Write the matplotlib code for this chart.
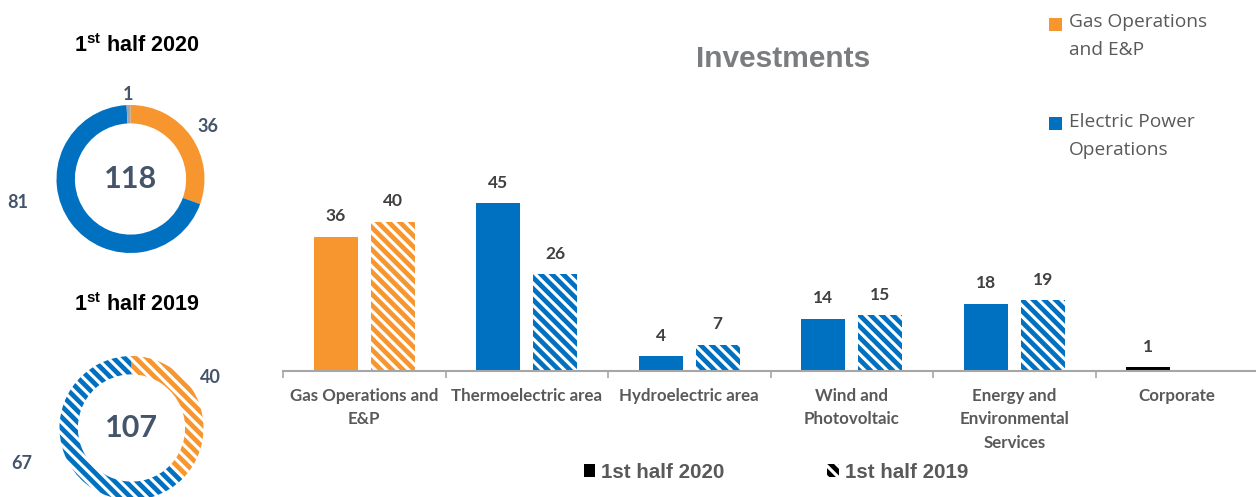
import numpy as np
import matplotlib
matplotlib.use("Agg")
import matplotlib.pyplot as plt
from matplotlib.patches import Rectangle, Patch

plt.rcParams["hatch.linewidth"] = 3.4
plt.rcParams["mathtext.fontset"] = "custom"
plt.rcParams["mathtext.bf"] = "Liberation Sans:bold"
plt.rcParams["mathtext.rm"] = "Liberation Sans:bold"

ORANGE = "#F7962F"
BLUE = "#0070C0"
GREY = "#A5A5A5"
BLACK = "#000000"
NUM_COLOR = "#44546A"
TEXT_GREY = "#595959"
STRIPES = "\\\\\\"

# --- data ---
categories = ["Gas Operations and\nE&P", "Thermoelectric area", "Hydroelectric area",
              "Wind and\nPhotovoltaic", "Energy and\nEnvironmental\nServices", "Corporate"]
inv_2020 = [36, 45, 4, 14, 18, 1]
inv_2019 = [40, 26, 7, 15, 19, None]
bar_colors = [ORANGE, BLUE, BLUE, BLUE, BLUE, BLACK]

donut_labels_2020 = ["Gas Operations and E&P", "Electric Power Operations", "Corporate"]
donut_2020 = [36, 81, 1]
donut_colors_2020 = [ORANGE, BLUE, GREY]
donut_2019 = [40, 67]
donut_colors_2019 = [ORANGE, BLUE]

period_labels = ["1st half 2020", "1st half 2019"]
legend_labels = ["Gas Operations\nand E&P", "Electric Power\nOperations"]

W, H = 1256, 497
fig = plt.figure(figsize=(W / 100, H / 100), dpi=100)


def px_axes(cx, cy, half):
    # square axes centred on a pixel position (y measured from top)
    return fig.add_axes([(cx - half) / W, 1 - (cy + half) / H, 2 * half / W, 2 * half / H])


def draw_donut(cx, cy, values, colors, radius, width, hatched, label_pos):
    ax = px_axes(cx, cy, 120)
    wedges, _ = ax.pie(values, colors=colors, startangle=90, counterclock=False,
                       radius=radius, wedgeprops=dict(width=width, linewidth=0))
    if hatched:
        for w, c in zip(wedges, colors):
            w.set_facecolor("white")
            w.set_edgecolor(c)
            w.set_hatch(STRIPES)
            w.set_linewidth(0)
    ax.set_xlim(-1.5, 1.5)
    ax.set_ylim(-1.5, 1.5)
    ax.set_aspect("equal")
    ax.axis("off")
    ax.text(0, 0, str(sum(values)), ha="center", va="center", fontsize=22,
            fontweight="bold", color=NUM_COLOR, family="Lato")
    for v, (lx, ly) in zip(values, label_pos):
        ax.text(lx, ly, str(v), ha="center", va="center", fontsize=13,
                fontweight="bold", color=NUM_COLOR, family="Lato")
    return ax


# donuts: 1 unit = 80 px
draw_donut(130.5, 179, donut_2020, donut_colors_2020, 0.925, 0.23, False,
           [(0.97, 0.66), (-1.41, -0.29), (-0.03, 1.05)])
draw_donut(131.5, 428, donut_2019, donut_colors_2019, 0.9, 0.23, True,
           [(0.99, 0.625), (-1.37, -0.45)])

fig.text(137 / W, 1 - 46 / H, r"1$^{\mathbf{st}}$ half 2020", ha="center", va="center",
         fontsize=15.5, fontweight="bold", family="Liberation Sans", color="black")
fig.text(137 / W, 1 - 305 / H, r"1$^{\mathbf{st}}$ half 2019", ha="center", va="center",
         fontsize=15.5, fontweight="bold", family="Liberation Sans", color="black")

# --- bar chart ---
base_px, top_px = 371, 160
ax = fig.add_axes([283 / W, 1 - base_px / H, 975 / W, (base_px - top_px) / H])
x = np.arange(len(categories))
bw, off = 0.27, 0.175

ax.bar(x - off, inv_2020, width=bw, color=bar_colors, linewidth=0)
for i, v in enumerate(inv_2020):
    ax.annotate(str(v), (x[i] - off, v), xytext=(0, 9), textcoords="offset points",
                ha="center", va="bottom", fontsize=12.5, fontweight="bold",
                color="#404040", family="Lato")

for i, v in enumerate(inv_2019):
    if v is None:
        continue
    ax.bar(x[i] + off, v, width=bw, facecolor="white", edgecolor=bar_colors[i],
           hatch=STRIPES, linewidth=0)
    ax.annotate(str(v), (x[i] + off, v), xytext=(0, 9), textcoords="offset points",
                ha="center", va="bottom", fontsize=12.5, fontweight="bold",
                color="#404040", family="Lato")

ax.set_xlim(-0.5, len(categories) - 0.5)
ax.set_ylim(0, (base_px - top_px) / 3.73)
for s in ["top", "right", "left"]:
    ax.spines[s].set_visible(False)
ax.spines["bottom"].set_color("#A6A6A6")
ax.spines["bottom"].set_linewidth(1.5)
ax.set_yticks([])
ax.set_xticks(np.arange(-0.5, len(categories), 1))
ax.set_xticklabels([])
ax.tick_params(axis="x", which="major", length=5, width=1.2, color="#A6A6A6")
ax.set_xticks(x, minor=True)
ax.set_xticklabels(categories, minor=True, fontsize=12.2, fontweight="bold",
                   color=TEXT_GREY, family="Lato", linespacing=1.6)
ax.tick_params(axis="x", which="minor", length=0, pad=12)

fig.text(783 / W, 1 - 59 / H, "Investments", ha="center", va="center", fontsize=21.5,
         fontweight="bold", color="#7A7C7F", family="Liberation Sans")

# segment legend, top right
for (sq_y, txt_y), lab, c in zip([(24.5, 36), (123.5, 136)], legend_labels, [ORANGE, BLUE]):
    fig.add_artist(Rectangle((1049 / W, 1 - (sq_y + 6.5) / H), 13 / W, 13 / H,
                             transform=fig.transFigure, color=c, linewidth=0))
    fig.text(1069 / W, 1 - txt_y / H, lab, ha="left", va="center", fontsize=13.8,
             color=TEXT_GREY, family="Open Sans", linespacing=1.7)

# period legend, bottom
handles = [Patch(facecolor=BLACK, linewidth=0),
           Patch(facecolor="white", edgecolor=BLACK, hatch=STRIPES, linewidth=0)]
fig.legend(handles, period_labels, loc="center", bbox_to_anchor=(776 / W, 1 - 472 / H),
           ncol=2, frameon=False, handlelength=0.55, handleheight=0.6, handletextpad=0.3,
           columnspacing=5.0, labelcolor=TEXT_GREY,
           prop=dict(family="Liberation Sans", weight="bold", size=14.8))

fig.savefig("out.png", dpi=100)
